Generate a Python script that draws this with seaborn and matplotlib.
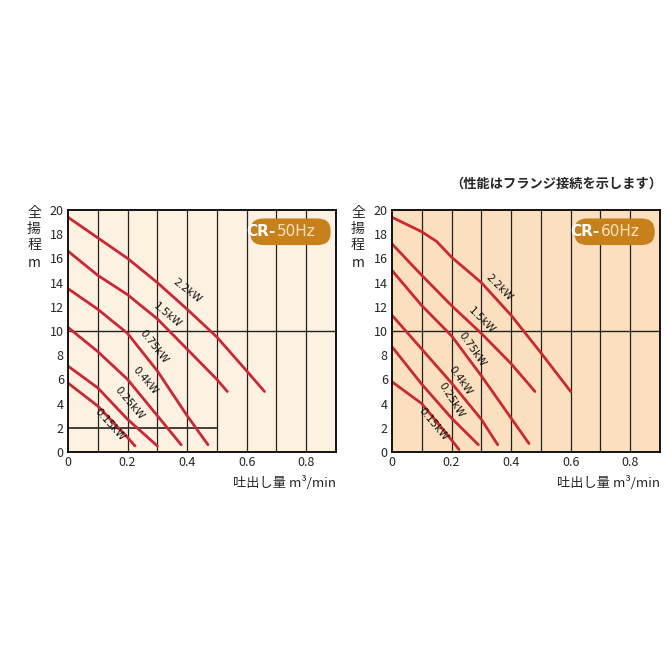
import numpy as np
import pandas as pd
import matplotlib
matplotlib.use("Agg")
import matplotlib.pyplot as plt
from matplotlib.patches import FancyBboxPatch
import seaborn as sns

sns.set_theme(style="white")
plt.rcParams['font.family'] = ['Noto Sans CJK JP', 'DejaVu Sans']

motors = ["2.2kW", "1.5kW", "0.75kW", "0.4kW", "0.25kW", "0.15kW"]

# 50Hz curves: flow (m3/min), head (m)
q50 = {
    "2.2kW": [0, 0.1, 0.2, 0.3, 0.4, 0.5, 0.6, 0.66],
    "1.5kW": [0, 0.1, 0.2, 0.3, 0.4, 0.5, 0.535],
    "0.75kW": [0, 0.1, 0.2, 0.3, 0.4, 0.47],
    "0.4kW": [0, 0.1, 0.2, 0.3, 0.38],
    "0.25kW": [0, 0.1, 0.2, 0.3],
    "0.15kW": [0, 0.1, 0.2, 0.225],
}
h50 = {
    "2.2kW": [19.4, 17.7, 16.0, 14.0, 11.8, 9.5, 6.7, 5.0],
    "1.5kW": [16.6, 14.6, 13.0, 11.0, 8.5, 6.0, 5.0],
    "0.75kW": [13.5, 11.8, 9.8, 6.7, 3.0, 0.6],
    "0.4kW": [10.3, 8.3, 6.0, 3.0, 0.6],
    "0.25kW": [7.1, 5.3, 2.7, 0.5],
    "0.15kW": [5.7, 3.8, 1.2, 0.5],
}
# 60Hz curves
q60 = {
    "2.2kW": [0, 0.1, 0.15, 0.2, 0.3, 0.4, 0.5, 0.6],
    "1.5kW": [0, 0.1, 0.2, 0.3, 0.4, 0.48],
    "0.75kW": [0, 0.1, 0.2, 0.3, 0.4, 0.46],
    "0.4kW": [0, 0.1, 0.2, 0.3, 0.355],
    "0.25kW": [0, 0.1, 0.2, 0.29],
    "0.15kW": [0, 0.1, 0.2, 0.225],
}
h60 = {
    "2.2kW": [19.4, 18.2, 17.4, 16.1, 14.0, 11.3, 8.2, 5.0],
    "1.5kW": [17.2, 14.6, 12.1, 9.8, 7.3, 5.0],
    "0.75kW": [15.0, 12.1, 9.6, 6.3, 2.8, 0.7],
    "0.4kW": [11.3, 8.5, 5.7, 2.7, 0.6],
    "0.25kW": [8.7, 5.6, 2.8, 0.6],
    "0.15kW": [5.8, 4.0, 1.0, 0.2],
}
# label anchors (x, y, rotation)
lab50 = {"2.2kW": (0.40, 13.3, -38), "1.5kW": (0.335, 11.3, -40), "0.75kW": (0.29, 8.7, -52),
         "0.4kW": (0.26, 5.9, -50), "0.25kW": (0.205, 4.0, -50), "0.15kW": (0.14, 2.3, -48)}
lab60 = {"2.2kW": (0.36, 13.6, -45), "1.5kW": (0.30, 10.9, -45), "0.75kW": (0.27, 8.5, -55),
         "0.4kW": (0.23, 5.9, -55), "0.25kW": (0.20, 4.3, -58), "0.15kW": (0.14, 2.3, -50)}

fig = plt.figure(figsize=(6.68, 6.68), dpi=100)
W, H = 668, 668

def panel(x0, q, h, labels, bg, hz, extra_h2):
    ax = fig.add_axes([x0 / W, (H - 452) / H, 268 / W, 242 / H])
    ax.set_facecolor(bg)
    rows = [(m, x, y) for m in motors for x, y in zip(q[m], h[m])]
    df = pd.DataFrame(rows, columns=["motor", "q", "h"])
    sns.lineplot(data=df, x="q", y="h", units="motor", estimator=None,
                 color="#cf2630", lw=2, ax=ax, legend=False, sort=False)
    for xv in np.arange(0.1, 0.9, 0.1):
        ax.axvline(xv, color="#222222", lw=0.9, zorder=0.5)
    ax.axhline(10, color="#222222", lw=1.0, zorder=0.5)
    if extra_h2:
        ax.plot([0, 0.5], [2, 2], color="#333333", lw=1.3, zorder=0.5)
    for m, (x, y, r) in labels.items():
        ax.text(x, y, m, rotation=r, fontsize=7.5, ha="center", va="center",
                family=["DejaVu Sans"], color="#111111")
    ax.set_xlim(0, 0.9)
    ax.set_ylim(0, 20)
    ax.set_xticks([0, 0.2, 0.4, 0.6, 0.8])
    ax.set_xticklabels(["0", "0.2", "0.4", "0.6", "0.8"])
    ax.set_yticks(range(0, 21, 2))
    ax.tick_params(length=0, labelsize=9, pad=3)
    ax.set_xlabel("")
    ax.set_ylabel("")
    for s in ax.spines.values():
        s.set_color("black")
        s.set_linewidth(1.3)
    # badge
    ax.add_patch(FancyBboxPatch((0.68, 0.855), 0.3, 0.11, transform=ax.transAxes,
                                boxstyle="round,pad=0,rounding_size=0.05",
                                fc="#c8801a", ec="none", zorder=3))
    ax.text(0.775, 0.91, "CR-", transform=ax.transAxes, ha="right", va="center",
            fontsize=11, fontweight="bold", color="white", family=["DejaVu Sans"], zorder=4)
    ax.text(0.78, 0.91, hz, transform=ax.transAxes, ha="left", va="center",
            fontsize=11, color="#fbe3c0", family=["DejaVu Sans"], zorder=4)
    # axis titles
    for i, ch in enumerate("全揚程"):
        fig.text((x0 - 34) / W, 1 - (213 + 16 * i) / H, ch, fontsize=10, ha="center", va="center")
    fig.text((x0 - 34) / W, 1 - 263 / H, "m", fontsize=10, ha="center", va="center")
    fig.text((x0 + 268) / W, 1 - 483 / H, "吐出し量 m³/min", fontsize=9.5, ha="right", va="center")
    return ax

panel(68, q50, h50, lab50, "#fdf1e2", "50Hz", True)
panel(392, q60, h60, lab60, "#fae0bf", "60Hz", False)
fig.text(662 / W, 1 - 184 / H, "（性能はフランジ接続を示します）", fontsize=9.5,
         fontweight="bold", ha="right", va="center")

fig.savefig("out.png", dpi=100, facecolor="white")
